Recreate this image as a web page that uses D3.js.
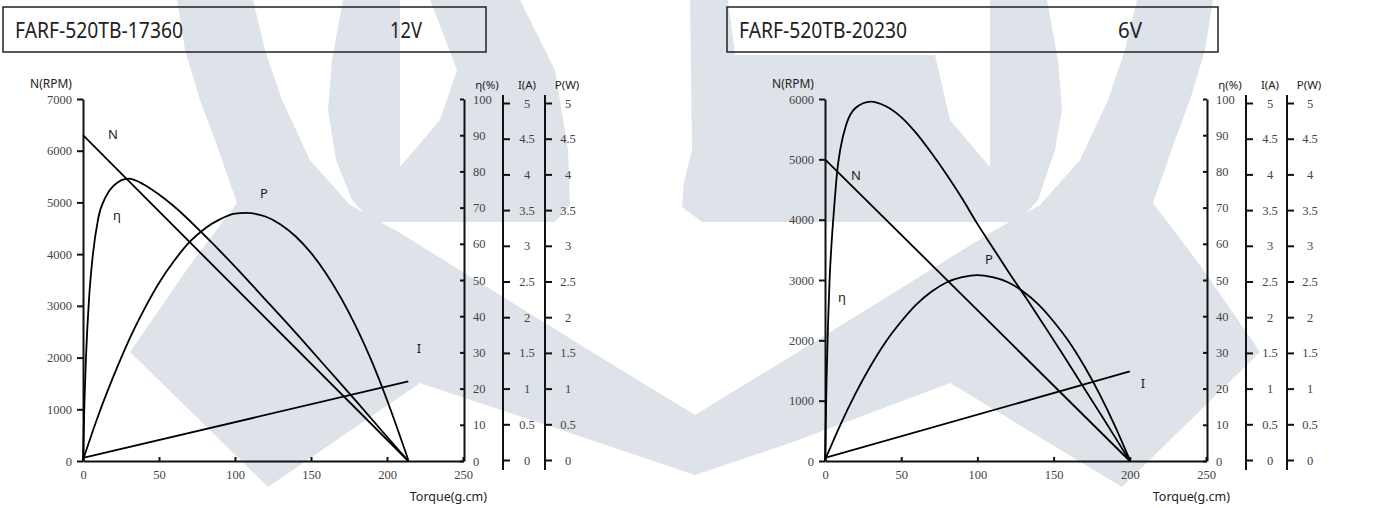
<!DOCTYPE html>
<html><head><meta charset="utf-8">
<script src="https://cdn.jsdelivr.net/npm/d3@7"></script>
<style>
body{margin:0;background:#fff;}
svg{display:block;}
</style></head><body>
<svg id="c" width="1388" height="508"></svg>
<script>
// ---------- data ----------
const torqueTicks = [0, 50, 100, 150, 200, 250];
const effTicks = [0, 10, 20, 30, 40, 50, 60, 70, 80, 90, 100];
const ampTicks = [0, 0.5, 1, 1.5, 2, 2.5, 3, 3.5, 4, 4.5, 5];
const wattTicks = [0, 0.5, 1, 1.5, 2, 2.5, 3, 3.5, 4, 4.5, 5];

// Motor A : FARF-520TB-17360, 12V
const titleA = ["FARF-520TB-17360", "12V"];
const speedTicksA = [0, 1000, 2000, 3000, 4000, 5000, 6000, 7000];
const speedA_T = [0, 214];
const speedA = [6300, 0];
const currentA_T = [0, 214];
const currentA = [0.03, 1.1];
const effA_T = [0, 1, 2, 4, 6, 10, 15, 20, 30, 40, 50, 60, 80, 100, 120, 140, 160, 180, 200, 214];
const effA = [0, 17, 29, 45, 55, 67, 73, 76, 78, 76.4, 73.6, 70.3, 62.3, 53.7, 44.6, 35.4, 25.9, 16.4, 6.7, 0];
const powA_T = [0, 10, 20, 30, 40, 50, 60, 70, 80, 90, 100, 107, 120, 130, 140, 150, 160, 170, 180, 190, 200, 214];
const powA = [0, 0.62, 1.17, 1.67, 2.10, 2.48, 2.79, 3.05, 3.24, 3.37, 3.45, 3.46, 3.41, 3.30, 3.13, 2.90, 2.61, 2.26, 1.85, 1.38, 0.84, 0];

// Motor B : FARF-520TB-20230, 6V
const titleB = ["FARF-520TB-20230", "6V"];
const speedTicksB = [0, 1000, 2000, 3000, 4000, 5000, 6000];
const speedB_T = [0, 200];
const speedB = [5000, 0];
const currentB_T = [0, 200];
const currentB = [0.03, 1.24];
const effB_T = [0, 1, 2, 3, 4, 6, 8, 10, 14, 20, 30, 40, 50, 60, 70, 80, 90, 100, 110, 120, 132, 144, 156, 168, 180, 190, 200];
const effB = [0, 22, 38, 50, 58, 70, 80, 86, 93, 97.5, 99.3, 98, 95, 90.5, 85, 79, 72.5, 65.5, 59, 52.5, 45, 37.3, 29.5, 21.5, 13.5, 6.8, 0];
const powB_T = [0, 10, 20, 30, 40, 50, 60, 70, 80, 90, 100, 110, 120, 130, 140, 150, 160, 170, 180, 190, 200];
const powB = [0, 0.49, 0.93, 1.32, 1.66, 1.94, 2.18, 2.36, 2.49, 2.56, 2.59, 2.56, 2.49, 2.36, 2.18, 1.94, 1.66, 1.32, 0.93, 0.49, 0];

// ---------- drawing ----------
const svg = d3.select("#c");
const SANS = "'Noto Sans', 'Open Sans', sans-serif";
const SERIF = "'Liberation Serif', 'DejaVu Serif', serif";

// background watermark (approximate logo shapes)
const wmShapes = [
  [[[177,0],[253,0],[265,50],[282,100],[310,160],[350,205],[400,233],[600,357],[695,415],[790,357],[990,233],[1040,205],[1080,160],[1108,100],[1125,50],[1137,0],[1213,0],[1205,50],[1190,100],[1175,140],[1153,203],[1200,265],[1260,352],[1122,487],[950,383],[790,443],[695,475],[600,443],[420,383],[268,487],[130,352],[190,265],[237,203],[215,140],[200,100],[185,50]]],
  [[[343,0],[520,0],[555,70],[568,150],[570,205],[555,222],[372,222],[352,200],[336,160],[328,110],[332,60]],
   [[400,0],[430,0],[457,70],[440,120],[400,167]]],
  [[[690,0],[728,0],[735,55],[935,55],[960,0],[1047,0],[1058,60],[1062,110],[1055,150],[1038,200],[1018,222],[702,222],[682,207],[684,182],[692,150]],
   [[960,0],[990,0],[990,167],[950,120],[935,55]]]
];
svg.append("g").selectAll("path").data(wmShapes).join("path")
  .attr("d", d => d.map(r => d3.line().curve(d3.curveLinearClosed)(r)).join(""))
  .attr("fill-rule", "evenodd")
  .attr("fill", "#dee2e9");

function chart(o) {
  const g = svg.append("g");
  const x = d3.scaleLinear().domain([0, 250]).range([o.x0, o.x1]);
  const yN = d3.scaleLinear().domain([0, o.nMax]).range([461, 99]);
  const yE = d3.scaleLinear().domain([0, 100]).range([461, 99]);
  const yI = d3.scaleLinear().domain([0, 5]).range([460, 103]);

  g.append("rect").attr("x", o.bx).attr("y", 7).attr("width", o.bw).attr("height", 45)
    .attr("fill", "none").attr("stroke", "#222").attr("stroke-width", 1.5);
  g.append("text").attr("x", o.bx + 12).attr("y", 38).text(o.title[0])
    .attr("font-family", SANS).attr("font-size", 22).attr("fill", "#222")
    .attr("textLength", 168).attr("lengthAdjust", "spacingAndGlyphs");
  g.append("text").attr("x", o.vx).attr("y", 38).text(o.title[1])
    .attr("font-family", SANS).attr("font-size", 22).attr("fill", "#222")
    .attr("textLength", o.vw).attr("lengthAdjust", "spacingAndGlyphs");

  const fmt = d => String(d);
  const ax = g.append("g").attr("transform", `translate(${o.x0},0)`)
    .call(d3.axisLeft(yN).tickValues(o.nTicks).tickSizeInner(6).tickSizeOuter(0).tickPadding(5).tickFormat(fmt));
  const bx = g.append("g").attr("transform", `translate(0,461)`)
    .call(d3.axisBottom(x).tickValues(torqueTicks).tickSizeInner(-4).tickSizeOuter(0).tickPadding(9).tickFormat(fmt));
  const ex = g.append("g").attr("transform", `translate(${o.x1 + 1},0)`)
    .call(d3.axisRight(yE).tickValues(effTicks).tickSizeInner(-4).tickSizeOuter(0).tickPadding(9).tickFormat(fmt));
  const ix = g.append("g").attr("transform", `translate(${o.xi},0)`)
    .call(d3.axisRight(yI).tickValues(ampTicks).tickSizeInner(7).tickSizeOuter(0).tickPadding(0).tickFormat(fmt));
  ix.selectAll(".tick text").attr("x", 24).attr("text-anchor", "middle");
  const px = g.append("g").attr("transform", `translate(${o.xp},0)`)
    .call(d3.axisRight(yI).tickValues(wattTicks).tickSizeInner(7).tickSizeOuter(0).tickPadding(0).tickFormat(fmt));
  px.selectAll(".tick text").attr("x", 23).attr("text-anchor", "middle");
  [ax, bx, ex, ix, px].forEach(a => {
    a.attr("font-family", SERIF).attr("font-size", 12.5);
    a.selectAll("text").attr("fill", "#444").attr("font-family", SERIF).attr("font-size", 12.5);
    a.selectAll("line").attr("stroke", "#111").attr("stroke-width", 2);
    a.select(".domain").attr("stroke", "#111").attr("stroke-width", 2);
  });
  ix.select(".domain").attr("d", "M0,95V470");
  px.select(".domain").attr("d", "M0,95V470");

  const lbl = (t, xx, yy, anchor, fs) => g.append("text").attr("x", xx).attr("y", yy)
    .attr("text-anchor", anchor || "middle").attr("font-family", SANS).attr("font-size", fs || 12.5)
    .attr("fill", "#222").text(t);
  lbl("N(RPM)", o.x0 - 32, 88, "middle", 12);
  lbl("η(%)", o.x1 + 24, 89, "middle", 11.5);
  lbl("I(A)", o.xi + 24, 89, "middle", 11.5);
  lbl("P(W)", o.xp + 22, 89, "middle", 11.5);
  lbl("Torque(g.cm)", o.x1 + 24, 501, "end", 12.5);

  const curve = (T, V, ys) => d3.line().x(i => x(T[i])).y(i => ys(V[i])).curve(d3.curveMonotoneX)(d3.range(T.length));
  const c = g.append("g").attr("fill", "none").attr("stroke", "#000").attr("stroke-width", 1.8);
  c.append("path").attr("d", curve(o.sT, o.s, yN));
  c.append("path").attr("d", curve(o.cT, o.c, yI));
  c.append("path").attr("d", curve(o.eT, o.e, yE));
  c.append("path").attr("d", curve(o.pT, o.p, yI));

  o.labels.forEach(l => lbl(l[0], l[1], l[2], "middle", 13));
}

chart({
  x0: 83, x1: 463, xi: 503, xp: 545, bx: 3, bw: 483, vx: 390, vw: 32,
  title: titleA, nMax: 7000, nTicks: speedTicksA,
  sT: speedA_T, s: speedA, cT: currentA_T, c: currentA, eT: effA_T, e: effA, pT: powA_T, p: powA,
  labels: [["N", 113, 139], ["η", 117, 220], ["P", 264, 198], ["I", 419, 353]]
});
chart({
  x0: 825, x1: 1206, xi: 1246, xp: 1287, bx: 727, bw: 491, vx: 1118, vw: 24,
  title: titleB, nMax: 6000, nTicks: speedTicksB,
  sT: speedB_T, s: speedB, cT: currentB_T, c: currentB, eT: effB_T, e: effB, pT: powB_T, p: powB,
  labels: [["N", 856, 180], ["η", 842, 302], ["P", 989, 264], ["I", 1143, 388]]
});
</script>
</body></html>
